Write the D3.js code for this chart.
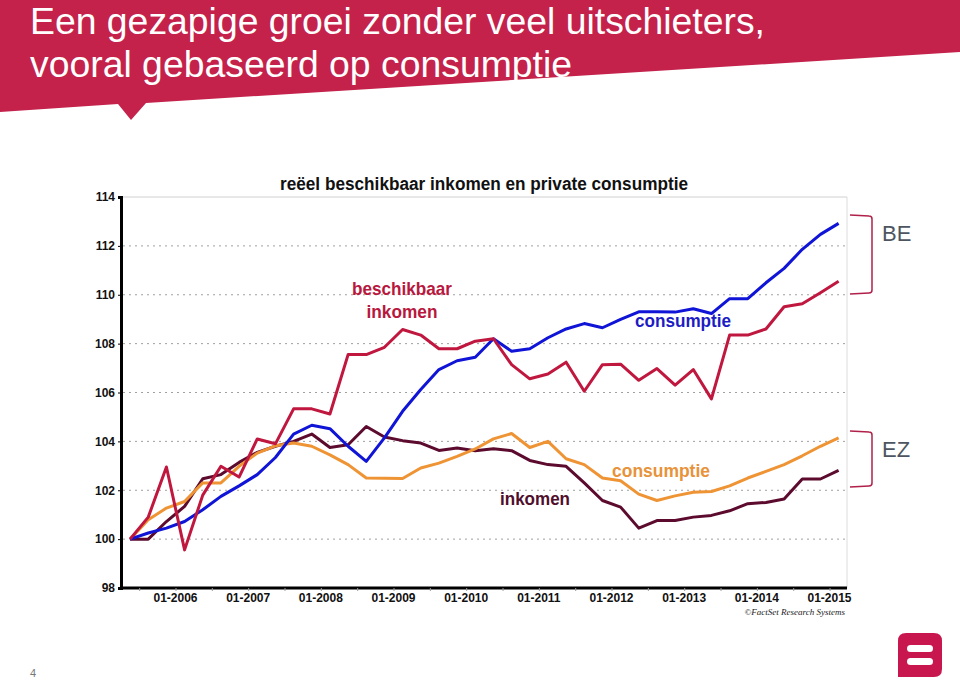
<!DOCTYPE html>
<html><head><meta charset="utf-8">
<script src="https://cdn.jsdelivr.net/npm/d3@7"></script>
<style>html,body{margin:0;padding:0;background:#fff;}svg{display:block;}</style>
</head><body>
<svg id="c" width="960" height="682"></svg>
<script>
// ---------- DATA ----------
const quarters = ["2005Q4","2006Q1","2006Q2","2006Q3","2006Q4","2007Q1","2007Q2","2007Q3","2007Q4",
  "2008Q1","2008Q2","2008Q3","2008Q4","2009Q1","2009Q2","2009Q3","2009Q4","2010Q1","2010Q2","2010Q3","2010Q4",
  "2011Q1","2011Q2","2011Q3","2011Q4","2012Q1","2012Q2","2012Q3","2012Q4","2013Q1","2013Q2","2013Q3","2013Q4",
  "2014Q1","2014Q2","2014Q3","2014Q4","2015Q1","2015Q2","2015Q3"];
const beInkomen = [100,100.9,102.95,99.56,101.8,102.98,102.54,104.1,103.9,105.33,105.33,105.12,107.55,107.55,107.85,108.58,108.35,107.79,107.79,108.1,108.2,107.14,106.56,106.76,107.24,106.05,107.14,107.16,106.5,106.98,106.3,106.94,105.74,108.35,108.35,108.6,109.51,109.63,110.08,110.55];
const beConsumptie = [100,100.25,100.45,100.72,101.2,101.75,102.18,102.64,103.34,104.3,104.66,104.52,103.8,103.18,104.14,105.23,106.12,106.94,107.3,107.44,108.2,107.69,107.79,108.24,108.6,108.82,108.65,108.99,109.3,109.3,109.29,109.43,109.23,109.84,109.84,110.49,111.08,111.86,112.47,112.92];
const ezConsumptie = [100,100.79,101.27,101.54,102.3,102.3,102.98,103.52,103.82,103.93,103.8,103.45,103.05,102.5,102.49,102.48,102.91,103.11,103.39,103.69,104.1,104.32,103.75,104.0,103.29,103.05,102.5,102.39,101.84,101.58,101.77,101.92,101.95,102.18,102.5,102.77,103.05,103.41,103.8,104.14];
const ezInkomen = [100,100,100.72,101.34,102.47,102.64,103.14,103.55,103.8,104.0,104.3,103.75,103.86,104.61,104.18,104.03,103.93,103.63,103.73,103.62,103.7,103.62,103.22,103.05,102.98,102.3,101.58,101.31,100.45,100.76,100.76,100.9,100.97,101.16,101.45,101.5,101.64,102.46,102.46,102.81];
const yTicks = [98,100,102,104,106,108,110,112,114];
const xTickYears = [2006,2007,2008,2009,2010,2011,2012,2013,2014,2015];
const xTickLabels = ["01-2006","01-2007","01-2008","01-2009","01-2010","01-2011","01-2012","01-2013","01-2014","01-2015"];
const titleLines = ["Een gezapige groei zonder veel uitschieters,","vooral gebaseerd op consumptie"];
const chartTitle = "reëel beschikbaar inkomen en private consumptie";

// ---------- SETUP ----------
const svg = d3.select("#c");
const crimson = "#c4214b";
const qToYear = q => +q.slice(0,4) + (+q.slice(5)-1)*0.25 + 0.125;

// banner
svg.append("path").attr("d","M0,0 L960,0 L960,52 L146,103 L131,120 L118,104 L0,112 Z").attr("fill",crimson);
svg.selectAll("text.title").data(titleLines).join("text")
  .attr("x",30).attr("y",(d,i)=>34+i*43)
  .attr("font-family","'Liberation Sans Narrow','Arial Narrow','Liberation Sans',Arial,sans-serif")
  .attr("font-size",37).attr("fill","#fff")
  .attr("textLength",(d,i)=>i===0?735:542).attr("lengthAdjust","spacingAndGlyphs")
  .text(d=>d);

// scales
const x = d3.scaleLinear().domain([2005.75,2015.75]).range([121,847.7]);
const y = d3.scaleLinear().domain([98,114]).range([588,197]);

const g = svg.append("g");
// gridlines
g.selectAll("line.grid").data(yTicks.filter(v=>v>98 && v<114)).join("line")
  .attr("x1",123).attr("x2",847).attr("y1",d=>y(d)).attr("y2",d=>y(d))
  .attr("stroke","#a0a0a0").attr("stroke-width",1).attr("stroke-dasharray","2,4");
// top + right border
g.append("line").attr("x1",121).attr("x2",847).attr("y1",y(114)).attr("y2",y(114)).attr("stroke","#d0d0d0");
g.append("line").attr("x1",847).attr("x2",847).attr("y1",y(114)).attr("y2",y(98)).attr("stroke","#dcdcdc");

// y axis
const yAxis = d3.axisLeft(y).tickValues(yTicks).tickSize(3).tickPadding(3).tickFormat(d3.format("d"));
const ya = g.append("g").attr("transform","translate(121,0)").call(yAxis);
ya.select(".domain").attr("stroke","#000").attr("stroke-width",3);
ya.selectAll("text").attr("font-family","'Liberation Sans Narrow','Liberation Sans',Arial,sans-serif").attr("font-size",12).attr("font-weight","bold").attr("fill","#111");
ya.selectAll(".tick line").attr("stroke","#000");

// x axis
const xAxis = d3.axisBottom(x).tickValues(d3.range(2006,2016,0.5)).tickSize(3).tickFormat("");
const xa = g.append("g").attr("transform","translate(0,"+y(98)+")").call(xAxis);
xa.select(".domain").attr("stroke","#000").attr("stroke-width",3).attr("d","M121,0H847");
xa.selectAll(".tick line").attr("stroke","#999");
g.selectAll("text.xl").data(xTickYears).join("text")
  .attr("x",d=>x(d+0.5)).attr("y",602).attr("text-anchor","middle")
  .attr("font-family","'Liberation Sans Narrow','Liberation Sans',Arial,sans-serif").attr("font-size",12).attr("font-weight","bold").attr("fill","#111")
  .text((d,i)=>xTickLabels[i]);
g.append("text").attr("x",845).attr("y",615).attr("text-anchor","end")
  .attr("font-family","'Liberation Serif',serif").attr("font-style","italic").attr("font-size",9).attr("fill","#222")
  .text("©FactSet Research Systems");

// chart title
g.append("text").attr("x",484).attr("y",190).attr("text-anchor","middle")
  .attr("font-family","'Liberation Sans Narrow','Liberation Sans',Arial,sans-serif").attr("font-weight","bold").attr("font-size",18).attr("fill","#111")
  .attr("textLength",408).attr("lengthAdjust","spacingAndGlyphs").text(chartTitle);

// lines
const line = d3.line().x((d,i)=>x(qToYear(quarters[i]))).y(d=>y(d));
const series = [
  {v:ezInkomen,c:"#5c0b2e"},
  {v:ezConsumptie,c:"#ef9435"},
  {v:beConsumptie,c:"#0f14d6"},
  {v:beInkomen,c:"#c0173f"}
];
g.selectAll("path.s").data(series).join("path")
  .attr("d",d=>line(d.v)).attr("fill","none").attr("stroke",d=>d.c)
  .attr("stroke-width",3).attr("stroke-linejoin","round");

// annotations
const ann = [
  {t:"beschikbaar",x:402,y:295,c:"#b8173e",w:100},
  {t:"inkomen",x:402,y:318,c:"#b8173e",w:71},
  {t:"consumptie",x:683,y:327,c:"#1c1cc4",w:96},
  {t:"consumptie",x:661,y:477,c:"#e8923a",w:98},
  {t:"inkomen",x:535,y:505,c:"#4f0f2c",w:70}
];
g.selectAll("text.ann").data(ann).join("text")
  .attr("x",d=>d.x).attr("y",d=>d.y).attr("text-anchor","middle")
  .attr("font-family","'Liberation Sans Narrow','Liberation Sans',Arial,sans-serif").attr("font-weight","bold").attr("font-size",19)
  .attr("fill",d=>d.c).attr("textLength",d=>d.w).attr("lengthAdjust","spacingAndGlyphs").text(d=>d.t);

// brackets
const brackets = [{t:"BE",y1:215,y2:294,ty:241},{t:"EZ",y1:431,y2:487,ty:457}];
brackets.forEach(b=>{
  svg.append("path").attr("d",`M850,${b.y1} L869,${b.y1+1} Q872,${b.y1+1} 872,${b.y1+4} L872,${b.y2-4} Q872,${b.y2-1} 869,${b.y2-1} L850,${b.y2}`)
    .attr("fill","none").attr("stroke","#b0204a").attr("stroke-width",1.5);
  svg.append("text").attr("x",882).attr("y",b.ty).attr("font-family","'Liberation Sans',Arial,sans-serif")
    .attr("font-size",22).attr("fill","#4d5660").text(b.t);
});

// page number
svg.append("text").attr("x",30).attr("y",677).attr("font-family","'Liberation Sans',Arial,sans-serif")
  .attr("font-size",11).attr("fill","#777").text("4");
// logo
svg.append("path").attr("d","M906,633 H934 Q942,633 942,641 V669 Q942,677 934,677 H898 V641 Q898,633 906,633 Z").attr("fill","#c8174f");
[645,658].forEach(yy=>svg.append("rect").attr("x",907).attr("y",yy).attr("width",26).attr("height",7).attr("rx",3.5).attr("fill","#fff"));
</script>
</body></html>
